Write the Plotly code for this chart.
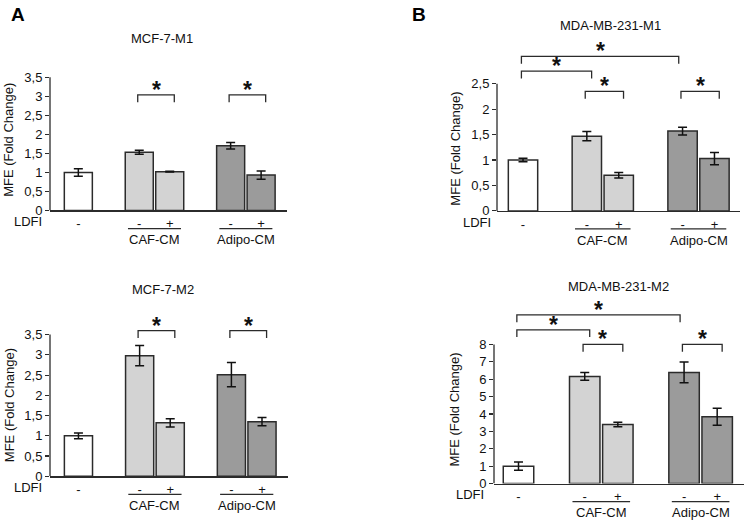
import plotly.graph_objects as go

W, H = 744, 528

# ---------------- data ----------------
conditions = ["Control", "CAF-CM", "CAF-CM + LDFI", "Adipo-CM", "Adipo-CM + LDFI"]
ldfi_labels = ["-", "-", "+", "-", "+"]
group_names = ["CAF-CM", "Adipo-CM"]
group_members = [(1, 2), (3, 4)]
bar_colors = ["#ffffff", "#d3d3d3", "#d3d3d3", "#9b9b9b", "#9b9b9b"]

mcf7_m1_mean = [1.00, 1.53, 1.02, 1.70, 0.93]
mcf7_m1_err = [0.10, 0.05, 0.01, 0.085, 0.11]
mcf7_m2_mean = [1.00, 2.98, 1.32, 2.51, 1.35]
mcf7_m2_err = [0.07, 0.25, 0.10, 0.30, 0.10]
mda_m1_mean = [1.00, 1.47, 0.70, 1.57, 1.03]
mda_m1_err = [0.035, 0.09, 0.055, 0.077, 0.12]
mda_m2_mean = [1.00, 6.16, 3.39, 6.39, 3.84]
mda_m2_err = [0.24, 0.22, 0.13, 0.60, 0.49]

# significance brackets: (from index, to index, bracket level)
mcf7_m1_sig = [(1, 2, 3.04), (3, 4, 3.04)]
mcf7_m2_sig = [(1, 2, 3.60), (3, 4, 3.60)]
mda_m1_sig = [(1, 2, 2.35), (3, 4, 2.35), (0, 1, 2.75), (0, 3, 3.04)]
mda_m2_sig = [(1, 2, 8.0), (3, 4, 8.0), (0, 1, 8.84), (0, 3, 9.70)]

ytick_vals_35 = [0, 0.5, 1, 1.5, 2, 2.5, 3, 3.5]
ytick_text_35 = ["0", "0,5", "1", "1,5", "2", "2,5", "3", "3,5"]
ytick_vals_25 = [0, 0.5, 1, 1.5, 2, 2.5]
ytick_text_25 = ["0", "0,5", "1", "1,5", "2", "2,5"]
ytick_vals_8 = [0, 1, 2, 3, 4, 5, 6, 7, 8]
ytick_text_8 = ["0", "1", "2", "3", "4", "5", "6", "7", "8"]

# ---------------- layout helpers ----------------
pos = [0, 2, 3, 5, 6]
FONT = "Arial, Liberation Sans, sans-serif"
DARK = "#2b2b2b"
TXT = "#111111"
FS = 13


def fx(p):
    return p / W


def fy(p):
    return 1 - p / H


panels = [
    dict(title="MCF-7-M1", mean=mcf7_m1_mean, err=mcf7_m1_err, sig=mcf7_m1_sig,
         yv=ytick_vals_35, yt=ytick_text_35,
         xpx=(50, 287), xr=(-0.93, 6.85), y0=211.3, ymax=3.5, ymaxpx=75, ytop=3.6,
         tpos=(161.7, 35), ylab=(9, 139), ldfi_x=27.5),
    dict(title="MCF-7-M2", mean=mcf7_m2_mean, err=mcf7_m2_err, sig=mcf7_m2_sig,
         yv=ytick_vals_35, yt=ytick_text_35,
         xpx=(50, 288), xr=(-0.93, 6.85), y0=483.3, ymax=3.5, ymaxpx=338.3, ytop=3.95,
         tpos=(163.3, 292.3), ylab=(9, 410.5), ldfi_x=27.5),
    dict(title="MDA-MB-231-M1", mean=mda_m1_mean, err=mda_m1_err, sig=mda_m1_sig,
         yv=ytick_vals_25, yt=ytick_text_25,
         xpx=(497, 740), xr=(-0.815, 6.8), y0=211.7, ymax=2.5, ymaxpx=81.7, ytop=3.35,
         tpos=(610.3, 21.7), ylab=(456, 148), ldfi_x=476.5),
    dict(title="MDA-MB-231-M2", mean=mda_m2_mean, err=mda_m2_err, sig=mda_m2_sig,
         yv=ytick_vals_8, yt=ytick_text_8,
         xpx=(494, 744), xr=(-0.74, 6.81), y0=490.7, ymax=8, ymaxpx=348.3, ytop=10.5,
         tpos=(618.7, 289), ylab=(455, 415), ldfi_x=469.5),
]

fig = go.Figure()
shapes = []
annotations = []
layout_axes = {}

for i, p in enumerate(panels, start=1):
    xa = "x" if i == 1 else f"x{i}"
    ya = "y" if i == 1 else f"y{i}"
    xaxis_key = "xaxis" if i == 1 else f"xaxis{i}"
    yaxis_key = "yaxis" if i == 1 else f"yaxis{i}"

    ppu = (p["y0"] - p["ymaxpx"]) / p["ymax"]
    top_px = p["y0"] - p["ytop"] * ppu

    fig.add_trace(go.Bar(
        x=pos, y=p["mean"], width=0.92,
        marker=dict(color=bar_colors, line=dict(color=DARK, width=1.5)),
        error_y=dict(type="data", array=p["err"], visible=True,
                     color=TXT, thickness=1.5, width=4.5),
        xaxis=xa, yaxis=ya, showlegend=False, hoverinfo="skip",
    ))

    # significance brackets
    drop = 7.5 / ppu
    for a, b, lvl in p["sig"]:
        x_left = pos[a] - 0.05
        x_right = pos[b] + (0.15 if b - a == 1 else -0.12)
        fig.add_trace(go.Scatter(
            x=[x_left, x_left, x_right, x_right],
            y=[lvl - drop, lvl, lvl, lvl - drop],
            mode="lines", line=dict(color=DARK, width=1.3),
            xaxis=xa, yaxis=ya, showlegend=False, hoverinfo="skip",
        ))
        annotations.append(dict(
            x=(x_left + x_right) / 2, y=lvl, xref=xa, yref=ya,
            text="<b>*</b>", showarrow=False, yanchor="middle", yshift=5,
            font=dict(family=FONT, size=23, color=TXT),
        ))

    layout_axes[xaxis_key] = dict(
        domain=[fx(p["xpx"][0]), fx(p["xpx"][1])], range=list(p["xr"]),
        anchor=ya, showline=True, linecolor=DARK, linewidth=1.3,
        showgrid=False, zeroline=False, fixedrange=True,
        tickmode="array", tickvals=pos, ticktext=ldfi_labels,
        ticks="outside", ticklen=1, tickcolor="rgba(0,0,0,0)",
        tickfont=dict(family=FONT, size=FS, color=TXT),
    )
    layout_axes[yaxis_key] = dict(
        domain=[fy(p["y0"]), fy(top_px)], range=[0, p["ytop"]],
        anchor=xa, showline=False, showgrid=False, zeroline=False, fixedrange=True,
        tickmode="array", tickvals=p["yv"], ticktext=p["yt"],
        ticks="outside", ticklen=4, tickcolor=DARK, tickwidth=1.2,
        tickfont=dict(family=FONT, size=FS, color=TXT),
    )

    # y-axis line up to the last tick
    shapes.append(dict(type="line", xref=f"{xa} domain", yref=ya,
                       x0=0, x1=0, y0=0, y1=p["ymax"],
                       line=dict(color=DARK, width=1.3)))

    # group underlines and labels
    for name, (g0, g1) in zip(group_names, group_members):
        shapes.append(dict(type="line", xref=xa, yref="paper",
                           x0=pos[g0] - 0.37, x1=pos[g1] + 0.37,
                           y0=fy(p["y0"] + 18.5), y1=fy(p["y0"] + 18.5),
                           line=dict(color=DARK, width=1.2)))
        annotations.append(dict(
            x=(pos[g0] + pos[g1]) / 2, y=fy(p["y0"] + 30), xref=xa, yref="paper",
            text=name, showarrow=False, yanchor="middle",
            font=dict(family=FONT, size=FS, color=TXT),
        ))

    # LDFI label
    annotations.append(dict(
        x=fx(p["ldfi_x"]), y=fy(p["y0"] + 11.5), xref="paper", yref="paper",
        text="LDFI", showarrow=False, yanchor="middle", xanchor="center",
        font=dict(family=FONT, size=FS, color=TXT),
    ))
    # panel title
    annotations.append(dict(
        x=fx(p["tpos"][0]), y=fy(p["tpos"][1]), xref="paper", yref="paper",
        text=p["title"], showarrow=False, yanchor="middle", xanchor="center",
        font=dict(family=FONT, size=FS, color=TXT),
    ))
    # y-axis title
    annotations.append(dict(
        x=fx(p["ylab"][0]), y=fy(p["ylab"][1]), xref="paper", yref="paper",
        text="MFE (Fold Change)", textangle=-90, showarrow=False,
        yanchor="middle", xanchor="center",
        font=dict(family=FONT, size=FS, color=TXT),
    ))

# panel letters
for letter, (lx, ly) in zip(["A", "B"], [(17.5, 11), (418.5, 10.5)]):
    annotations.append(dict(
        x=fx(lx), y=fy(ly), xref="paper", yref="paper", text=f"<b>{letter}</b>",
        showarrow=False, xanchor="center", yanchor="middle",
        font=dict(family=FONT, size=19, color="#000000"),
    ))

fig.update_layout(
    width=W, height=H, margin=dict(l=0, r=0, t=0, b=0),
    paper_bgcolor="white", plot_bgcolor="white",
    shapes=shapes, annotations=annotations, bargap=0,
    hovermode=False,
    **layout_axes,
)

fig.write_html(
    "out.html",
    config={"displayModeBar": False, "staticPlot": True},
    post_script="document.body.style.margin='0';document.body.style.overflow='hidden';",
)
